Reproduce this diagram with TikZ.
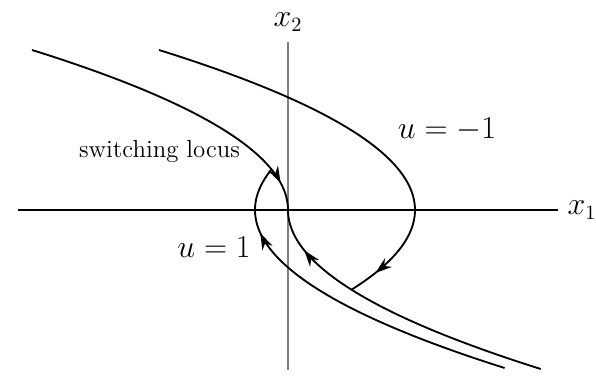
\documentclass[tikz,border=0pt]{standalone}
\usetikzlibrary{arrows.meta,decorations.markings}

\tikzset{
    traj/.style={line width=1pt},
    midarrow/.style={postaction={decorate,decoration={markings,
        mark=at position #1 with {\arrow{Stealth[length=9pt,width=6pt]}}}}},
    biglabel/.style={font=\fontsize{16}{19}\selectfont}
}

\begin{document}
\begin{tikzpicture}[x=0.95cm,y=0.95cm]
    \useasboundingbox (-5.76,-3.3) rectangle (6.16,4.2);

    % osy
    \draw[line width=0.6pt] (-5.4,0) -- (5.4,0) coordinate (xend);
    \draw[line width=0.6pt, gray] (0,-3.2) -- (0,3.36) coordinate (yend);
    \node[biglabel, anchor=west, inner sep=1pt] (xlab) at ([xshift=4pt]xend) {$x_1$};
    \node[biglabel, anchor=south] (ylab) at ([yshift=2pt]yend) {$x_2$};

    % switching locus
    \draw[traj, midarrow=0.91] plot[domain=3.2:0, variable=\t, samples=60] ({-\t*\t/2},{\t});
    \draw[traj, midarrow=0.858] plot[domain=-3.18:0, variable=\t, samples=60] ({\t*\t/2},{\t});

    % u = -1
    \draw[traj, midarrow=0.931] plot[domain=3.2:-1.594, variable=\t, samples=80] ({2.54-\t*\t/2},{\t});

    % u = 1
    \draw[traj, midarrow=0.806] plot[domain=-3.16:0.8124, variable=\t, samples=80] ({-0.66+\t*\t/2},{\t});

    % popisky
    \node[biglabel] (um) at (3.18,1.6) {$u=-1$};
    \node[biglabel] (up) at (-1.48,-0.74) {$u=1$};
    \node[font=\fontsize{13.4}{16}\selectfont] (sl) at (-2.57,1.18) {switching locus};
\end{tikzpicture}
\end{document}
